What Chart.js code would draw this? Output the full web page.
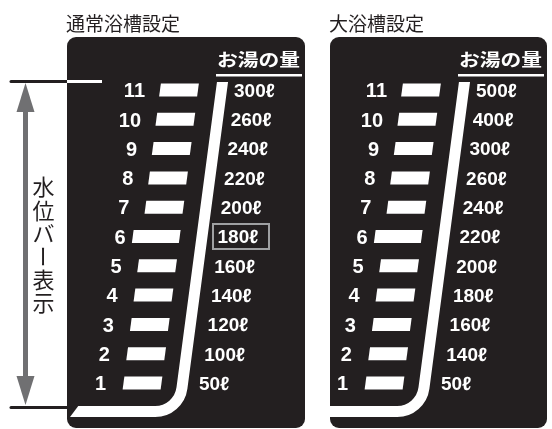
<!DOCTYPE html>
<html><head><meta charset="utf-8">
<script src="https://cdn.jsdelivr.net/npm/chart.js@4/dist/chart.umd.min.js"></script>
<style>html,body{margin:0;padding:0;background:#fff}canvas{display:block}</style>
</head><body>
<canvas id="c" width="552" height="429"></canvas>
<script>
// ---- data ----
const levels = [1, 2, 3, 4, 5, 6, 7, 8, 9, 10, 11];
const normalVolumes = [50, 100, 120, 140, 160, 180, 200, 220, 240, 260, 300];
const largeVolumes = [50, 140, 160, 180, 200, 220, 240, 260, 300, 400, 500];
const panelTitles = ['通常浴槽設定', '大浴槽設定'];
const volumeHeader = 'お湯の量';
const sideLabel = '水位バー表示';
const unit = 'ℓ';
const defaultLevel = 6;
const boxedVolume = 180;

// ---- layout / style (not data) ----
const INK = '#231f20';
const GRAY = '#707072';
const PANEL_DX = [0, 242];
const PANELS = [{x: 67, w: 238}, {x: 330, w: 217}];
const SLOPE = 0.1325;
const LEVEL_STEP_X = 3.65;
const BAR_W = 38;
const LONG_EXTRA = 9;
const lineX = (y, dx) => 222.5 - SLOPE * (y - 82) + dx;

function barRange(L, dx) {
  const left = 123.5 + LEVEL_STEP_X * (L - 1) + dx - (L === defaultLevel ? LONG_EXTRA : 0);
  const right = 123.5 + BAR_W + LEVEL_STEP_X * (L - 1) + dx;
  return [left, right];
}

const diagram = {
  id: 'diagram',
  beforeDraw(chart) {
    const ctx = chart.ctx;
    const xs = chart.scales.x;
    const X = v => xs.getPixelForValue(v);
    ctx.save();
    ctx.fillStyle = '#fff';
    ctx.fillRect(0, 0, chart.width, chart.height);

    ctx.fillStyle = INK;
    ctx.font = '19px "Noto Sans CJK JP", sans-serif';
    ctx.textBaseline = 'middle';
    ctx.textAlign = 'left';
    panelTitles.forEach((t, i) => ctx.fillText(t, X(PANELS[i].x - 1), 23.5));

    PANELS.forEach(p => {
      ctx.beginPath();
      ctx.roundRect(X(p.x), 37, p.w, 391, 9);
      ctx.fillStyle = INK;
      ctx.fill();
    });

    ctx.fillStyle = INK;
    ctx.font = '22px "Noto Sans CJK JP", sans-serif';
    ctx.textAlign = 'center';
    ctx.textBaseline = 'middle';
    Array.from(sideLabel).forEach((ch, i) => {
      const cy = 187 + i * 23.2;
      if (ch === 'ー') {
        ctx.save();
        ctx.translate(43.5, cy);
        ctx.rotate(Math.PI / 2);
        ctx.fillText(ch, 0, 0);
        ctx.restore();
      } else {
        ctx.fillText(ch, 43.5, cy);
      }
    });

    const yTop = 83, yBot = 405;
    ctx.fillStyle = GRAY;
    ctx.fillRect(23, yTop + 20, 5, yBot - yTop - 40);
    ctx.beginPath();
    ctx.moveTo(25.5, yTop); ctx.lineTo(34.5, yTop + 29); ctx.lineTo(16.5, yTop + 29); ctx.closePath();
    ctx.fill();
    ctx.beginPath();
    ctx.moveTo(25.5, yBot); ctx.lineTo(34.5, yBot - 29); ctx.lineTo(16.5, yBot - 29); ctx.closePath();
    ctx.fill();

    ctx.lineWidth = 3;
    ctx.strokeStyle = INK;
    ctx.lineCap = 'round';
    ctx.beginPath(); ctx.moveTo(11, 81.5); ctx.lineTo(67, 81.5); ctx.stroke();
    ctx.beginPath(); ctx.moveTo(11, 407.5); ctx.lineTo(70, 407.5); ctx.stroke();
    ctx.lineCap = 'butt';
    ctx.strokeStyle = '#fff';
    ctx.beginPath(); ctx.moveTo(67, 81.5); ctx.lineTo(102, 81.5); ctx.stroke();

    ctx.fillStyle = '#fff';
    ctx.font = 'bold 17px "Noto Sans CJK JP", sans-serif';
    ctx.textAlign = 'left';
    ctx.textBaseline = 'middle';
    const nat = ctx.measureText(volumeHeader).width;
    PANEL_DX.forEach(dx => {
      ctx.save();
      ctx.translate(X(217 + dx), 60);
      ctx.scale(83 / nat, 1);
      ctx.fillText(volumeHeader, 0, 0);
      ctx.restore();
      ctx.fillRect(X(216 + dx), 74, 86, 2.5);
    });

    PANEL_DX.forEach((dx, i) => {
      ctx.save();
      ctx.beginPath();
      if (i === 0) {
        ctx.moveTo(67, 82); ctx.lineTo(305, 82); ctx.lineTo(305, 429);
        ctx.lineTo(61, 429); ctx.lineTo(79, 405); ctx.lineTo(67, 405); ctx.closePath();
      } else {
        ctx.rect(330, 82, 217, 347);
      }
      ctx.clip();
      ctx.strokeStyle = '#fff';
      ctx.lineWidth = 11;
      ctx.beginPath();
      ctx.moveTo(lineX(74, dx), 74);
      ctx.arcTo(lineX(411.5, dx), 411.5, 0, 411.5, 27);
      ctx.lineTo(i === 0 ? 55 : 320, 411.5);
      ctx.stroke();
      ctx.restore();
    });
    ctx.restore();
  },
  beforeDatasetDraw(chart, args) {
    const ctx = chart.ctx;
    ctx.save();
    ctx.fillStyle = '#fff';
    args.meta.data.forEach(el => {
      const p = el.getProps(['x', 'y', 'base', 'height'], true);
      const h = p.height, sk = SLOPE * h / 2;
      const l = Math.min(p.x, p.base), r = Math.max(p.x, p.base);
      const t = p.y - h / 2, b = p.y + h / 2;
      ctx.beginPath();
      ctx.moveTo(l + sk, t); ctx.lineTo(r + sk, t); ctx.lineTo(r - sk, b); ctx.lineTo(l - sk, b);
      ctx.closePath(); ctx.fill();
    });
    ctx.restore();
    return false;
  },
  afterDatasetsDraw(chart) {
    const ctx = chart.ctx;
    const xs = chart.scales.x, ys = chart.scales.y;
    const X = v => xs.getPixelForValue(v), Y = v => ys.getPixelForValue(v);
    ctx.save();
    ctx.fillStyle = '#fff';
    ctx.textBaseline = 'alphabetic';
    const vols = [normalVolumes, largeVolumes];
    PANEL_DX.forEach((dx, pi) => {
      levels.forEach((L, i) => {
        const y = Y(L);
        ctx.font = 'bold 20px "Liberation Sans", Arial, sans-serif';
        ctx.textAlign = 'right';
        ctx.fillText(String(L), X(106 + 3.9 * (L - 1) + dx), y + 7.2);
        ctx.font = 'bold 19px "Liberation Sans", Arial, sans-serif';
        ctx.textAlign = 'left';
        const lx = X((L === 1 ? 199 : 201 + 3.3 * (L - 1)) + dx);
        ctx.fillText(vols[pi][i] + unit, lx, y + 6.8);
        if (pi === 0 && vols[pi][i] === boxedVolume) {
          ctx.strokeStyle = '#9fa0a2';
          ctx.lineWidth = 2;
          ctx.strokeRect(X(213 + dx), y - 12.5, 56, 25);
        }
      });
    });
    ctx.restore();
  }
};

const datasets = PANEL_DX.map((dx, i) => ({
  label: panelTitles[i],
  data: levels.map(L => ({y: L, x: barRange(L, dx)})),
  backgroundColor: '#fff',
  barThickness: 13,
  grouped: false
}));

new Chart(document.getElementById('c'), {
  type: 'bar',
  data: {datasets},
  options: {
    indexAxis: 'y',
    responsive: false,
    devicePixelRatio: 1,
    animation: false,
    events: [],
    layout: {padding: 0},
    plugins: {legend: {display: false}, tooltip: {enabled: false}},
    scales: {
      x: {type: 'linear', min: 0, max: 552, display: false, offset: false, grace: 0},
      y: {type: 'linear', min: 1 - 46 / 29.3, max: 11 + 90 / 29.3, display: false, offset: false, grace: 0}
    }
  },
  plugins: [diagram]
});
</script>
</body></html>
